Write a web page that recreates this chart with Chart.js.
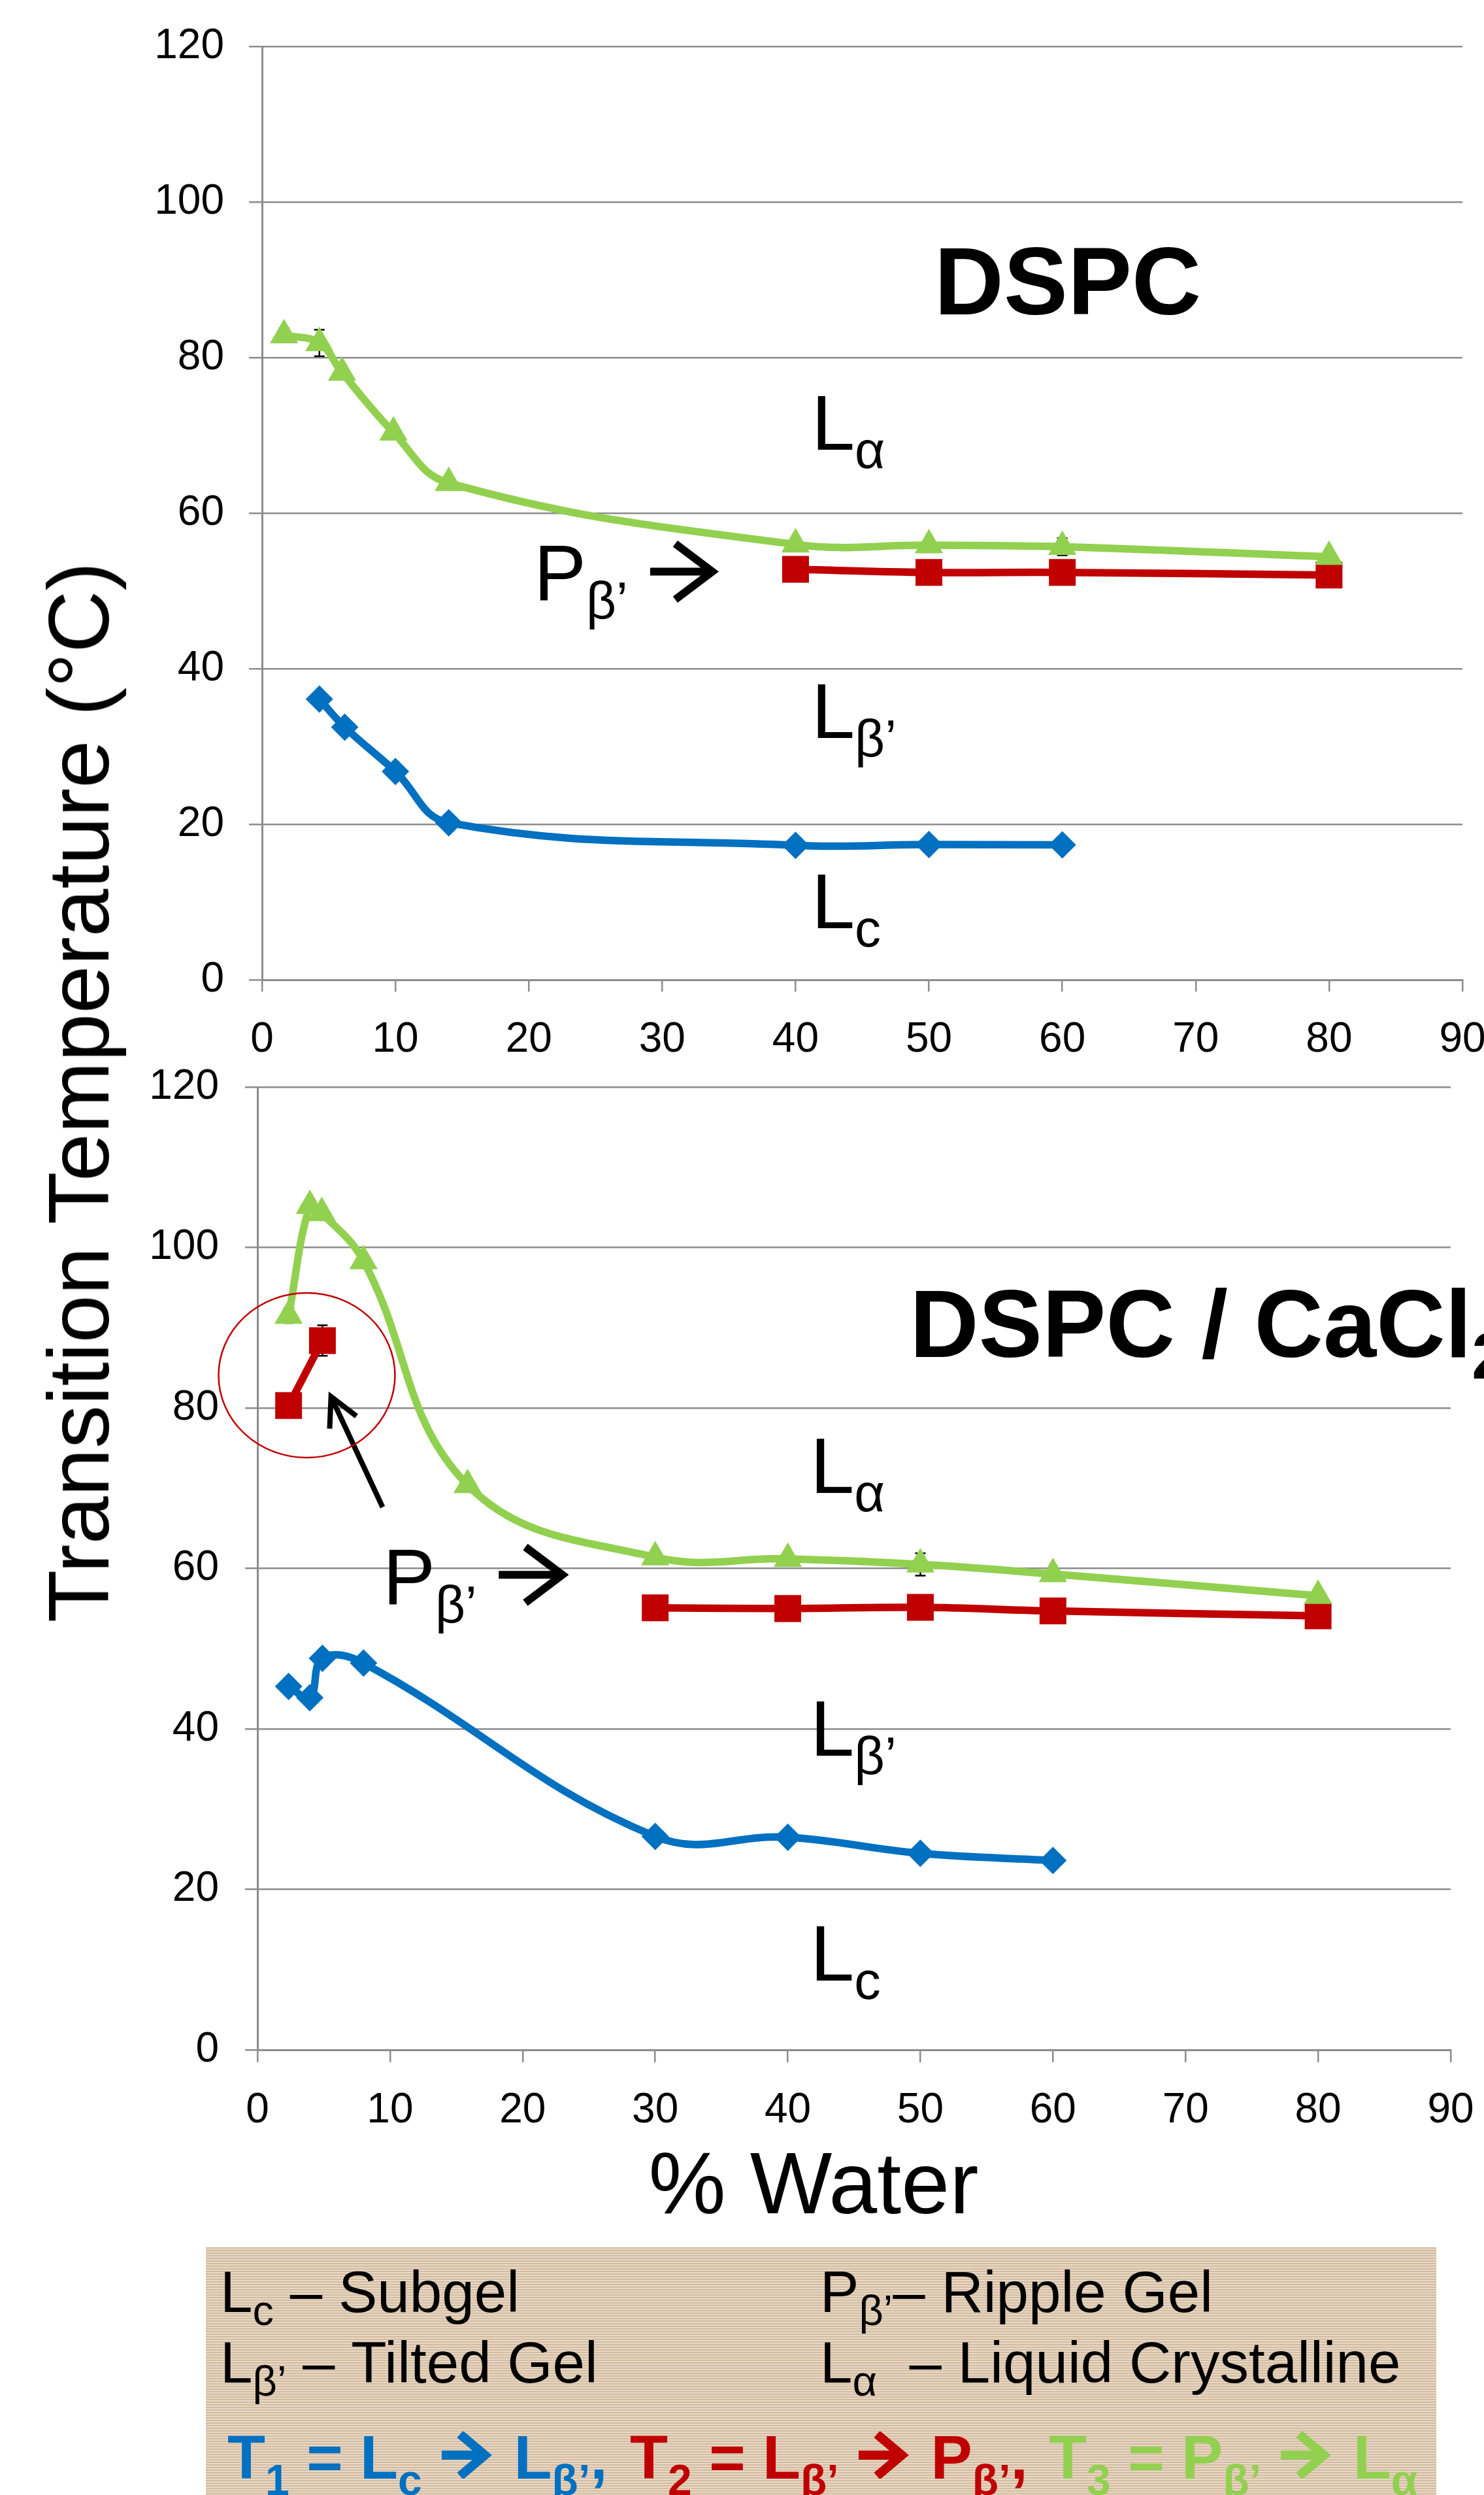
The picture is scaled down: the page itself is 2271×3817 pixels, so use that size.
<!DOCTYPE html>
<html>
<head>
<meta charset="utf-8">
<title>DSPC phase transitions vs water</title>
<script src="https://cdn.jsdelivr.net/npm/chart.js@4.4.0/dist/chart.umd.min.js"></script>
<style>
  html, body { margin: 0; padding: 0; background: #fff; }
  body { width: 2271px; height: 3817px; position: relative; overflow: hidden;
         font-family: 'Liberation Sans', Arial, Helvetica, sans-serif; color: #000; }
  canvas { position: absolute; left: 0; }
  #dspc-chart { top: 0; }
  #cacl-chart { top: 1560px; }
  .y-title { position: absolute; left: 121px; top: 1671px; font-size: 132px; line-height: 1;
             white-space: nowrap; transform: translate(-50%, -50%) rotate(-90deg); }
  .x-title { position: absolute; left: 1245px; top: 3274px; font-size: 133px; line-height: 1;
             white-space: nowrap; transform: translateX(-50%); }
  .key { position: absolute; left: 315px; top: 3438px; width: 1883px; height: 379px;
         background: repeating-linear-gradient(180deg, #d5bc9f 0 2px, #e6d8c8 2px 4px); }
  .key .row { position: absolute; white-space: nowrap; line-height: 1; font-size: 89px; }
  .key .row sub { font-size: 65px; vertical-align: baseline; position: relative; top: 20px; }
  .key .row.t { font-size: 95px; font-weight: bold; }
  .key .row.t sub { font-size: 66px; top: 25px; }
  .arr { vertical-align: baseline; margin: 0 4px; }
</style>
</head>
<body>
<canvas id="dspc-chart" width="2271" height="1700"></canvas>
<canvas id="cacl-chart" width="2271" height="1740"></canvas>

<div class="y-title">Transition Temperature (°C)</div>
<div class="x-title">% Water</div>

<div class="key">
  <div class="row" style="left:22px; top:24px">L<sub>c</sub> – Subgel</div>
  <div class="row" style="left:940px; top:24px">P<sub>β’</sub>– Ripple Gel</div>
  <div class="row" style="left:22px; top:132px">L<sub>β’</sub> – Tilted Gel</div>
  <div class="row" style="left:940px; top:132px">L<sub>α</sub>&nbsp; – Liquid Crystalline</div>
  <div class="row t" style="left:33px; top:274px; color:#0070C0">T<sub>1</sub> = L<sub>c</sub> <svg class="arr" width="80" height="72" viewBox="0 0 80 72"><path d="M0 36 H64 M28 4 L66 36 L28 68" fill="none" stroke="currentColor" stroke-width="14"/></svg> L<sub>β’</sub>,</div>
  <div class="row t" style="left:649px; top:274px; color:#C00000">T<sub>2</sub> = L<sub>β’</sub> <svg class="arr" width="80" height="72" viewBox="0 0 80 72"><path d="M0 36 H64 M28 4 L66 36 L28 68" fill="none" stroke="currentColor" stroke-width="14"/></svg> P<sub>β’</sub>,</div>
  <div class="row t" style="left:1290px; top:274px; color:#92D050">T<sub>3</sub> = P<sub>β’</sub> <svg class="arr" width="80" height="72" viewBox="0 0 80 72"><path d="M0 36 H64 M28 4 L66 36 L28 68" fill="none" stroke="currentColor" stroke-width="14"/></svg> L<sub>α</sub></div>
</div>

<script>
/* Phase diagram of DSPC (top) and DSPC / CaCl2 (bottom) vs % water */

const FONT = "'Liberation Sans', Arial, Helvetica, sans-serif";
const BLUE = '#0070C0';
const RED = '#C00000';
const GREEN = '#92D050';
const AXIS_GREY = '#8c8c8c';

// axis ranges
const WATER_RANGE = [0, 90];
const WATER_STEP = 10;
const TEMP_RANGE = [0, 120];
const TEMP_STEP = 20;

// DSPC panel -- T1 (Lc -> Lb'), T2 (Lb' -> Pb'), T3 (Pb' -> La)
const dspcT1Water = [4.3, 6.2, 10, 14, 40, 50, 60];
const dspcT1Temp  = [36.1, 32.5, 26.8, 20.2, 17.3, 17.4, 17.35];
const dspcT2Water = [40, 50, 60, 80];
const dspcT2Temp  = [52.8, 52.4, 52.4, 52.05];
const dspcT3Water = [1.65, 4.3, 6, 9.85, 14, 40, 50, 60, 80];
const dspcT3Temp  = [82.9, 81.9, 78.1, 70.4, 63.9, 56.0, 55.9, 55.7, 54.4];
const dspcT3Err   = [0.9, 1.7, 0, 0, 0, 0, 0, 1.1, 0];

// DSPC / CaCl2 panel
const caT1Water    = [2.35, 3.95, 4.9, 8.0, 30, 40, 50, 60];
const caT1Temp     = [45.3, 43.9, 48.8, 48.2, 26.6, 26.5, 24.5, 23.6];
const caT2LowWater = [2.35, 4.9];
const caT2LowTemp  = [80.3, 88.4];
const caT2LowErr   = [0, 1.9];
const caT2Water    = [30, 40, 50, 60, 80];
const caT2Temp     = [55.1, 55.0, 55.15, 54.7, 54.1];
const caT3Water    = [2.35, 3.95, 4.85, 8.0, 15.85, 30, 40, 50, 60, 80];
const caT3Temp     = [91.5, 105.2, 104.3, 98.3, 70.4, 61.4, 61.2, 60.5, 59.3, 56.6];
const caT3Err      = [0.9, 0, 0, 0, 0, 0, 0, 1.4, 0, 0];

const T1_STYLE = { borderColor: BLUE, backgroundColor: BLUE, pointStyle: 'rectRot', pointRadius: 21, order: 2 };
const T2_STYLE = { borderColor: RED, backgroundColor: RED, pointStyle: 'rect', pointRadius: 29, order: 1 };
const T3_STYLE = { borderColor: GREEN, backgroundColor: GREEN, pointStyle: 'triangle', pointRadius: 25, order: 0 };

function series(water, temp, style, errors) {
    return {
        data: water.map((x, i) => ({ x, y: temp[i] })),
        errorBars: errors || [],
        borderWidth: 11.5,
        pointBorderWidth: 0,
        tension: 0.4,
        ...style,
    };
}

// subscripted phase label: big letter + smaller subscript dropped below baseline
function phase(main, sub, size) {
    return [
        { text: main, font: `${size}px ${FONT}` },
        { text: sub, font: `${Math.round(size * 0.67)}px ${FONT}`, dy: 28 },
    ];
}

// small black error bars, drawn under the markers like Excel does
const errorBarPlugin = {
    id: 'errorBars',
    beforeDatasetsDraw(chart) {
        const { ctx, scales: { x, y } } = chart;
        ctx.save();
        ctx.strokeStyle = '#000';
        ctx.lineWidth = 2.5;
        chart.data.datasets.forEach(ds => {
            ds.errorBars.forEach((err, i) => {
                if (!err) return;
                const pt = ds.data[i];
                const px = x.getPixelForValue(pt.x);
                const top = y.getPixelForValue(pt.y + err);
                const bot = y.getPixelForValue(pt.y - err);
                ctx.beginPath();
                ctx.moveTo(px, top); ctx.lineTo(px, bot);
                ctx.moveTo(px - 8, top); ctx.lineTo(px + 8, top);
                ctx.moveTo(px - 8, bot); ctx.lineTo(px + 8, bot);
                ctx.stroke();
            });
        });
        ctx.restore();
    },
};

// phase names, panel titles, arrows and the circled region
const phaseNotesPlugin = {
    id: 'phaseNotes',
    afterDatasetsDraw(chart, args, opts) {
        const { ctx, scales: { x, y } } = chart;
        ctx.save();
        ctx.fillStyle = '#000';
        ctx.textAlign = 'left';
        ctx.textBaseline = 'alphabetic';
        (opts.labels || []).forEach(lab => {
            let cx = x.getPixelForValue(lab.x);
            const cy = y.getPixelForValue(lab.y);
            lab.parts.forEach(p => {
                ctx.font = p.font;
                ctx.fillText(p.text, cx, cy + (p.dy || 0));
                cx += ctx.measureText(p.text).width;
            });
        });

        ctx.strokeStyle = '#000';
        ctx.lineJoin = 'miter';
        (opts.arrows || []).forEach(a => {
            const x0 = x.getPixelForValue(a.from[0]), y0 = y.getPixelForValue(a.from[1]);
            const x1 = x.getPixelForValue(a.to[0]), y1 = y.getPixelForValue(a.to[1]);
            const back = Math.atan2(y0 - y1, x0 - x1);
            const spread = a.angle * Math.PI / 180;
            ctx.lineWidth = a.width;
            ctx.beginPath();
            ctx.moveTo(x0, y0);
            ctx.lineTo(x1, y1);
            ctx.stroke();
            ctx.beginPath();
            ctx.moveTo(x1 + Math.cos(back + spread) * a.head, y1 + Math.sin(back + spread) * a.head);
            ctx.lineTo(x1, y1);
            ctx.lineTo(x1 + Math.cos(back - spread) * a.head, y1 + Math.sin(back - spread) * a.head);
            ctx.stroke();
        });

        (opts.ellipses || []).forEach(e => {
            ctx.strokeStyle = e.color;
            ctx.lineWidth = e.width;
            ctx.beginPath();
            ctx.ellipse(x.getPixelForValue(e.x), y.getPixelForValue(e.y), e.rx, e.ry, 0, 0, Math.PI * 2);
            ctx.stroke();
        });
        ctx.restore();
    },
};

function buildPanel(canvasId, datasets, frame, notes) {
    return new Chart(document.getElementById(canvasId).getContext('2d'), {
        type: 'line',
        data: { datasets },
        plugins: [errorBarPlugin, phaseNotesPlugin],
        options: {
            responsive: false,
            animation: false,
            devicePixelRatio: 1,
            layout: { padding: { left: 0, top: frame.top, right: frame.right, bottom: frame.bottom } },
            plugins: {
                legend: { display: false },
                tooltip: { enabled: false },
                phaseNotes: notes,
            },
            scales: {
                x: {
                    type: 'linear',
                    min: WATER_RANGE[0], max: WATER_RANGE[1],
                    ticks: { stepSize: WATER_STEP, color: '#000', font: { family: FONT, size: 64 }, padding: 36, maxRotation: 0 },
                    grid: { drawOnChartArea: false, color: AXIS_GREY, lineWidth: 2.5, tickLength: frame.xTick },
                    border: { color: AXIS_GREY, width: 3 },
                    afterFit: s => { s.height = 150; s.paddingLeft = 0; s.paddingRight = 0; },
                },
                y: {
                    type: 'linear',
                    min: TEMP_RANGE[0], max: TEMP_RANGE[1],
                    ticks: { stepSize: TEMP_STEP, color: '#000', font: { family: FONT, size: 64 }, padding: frame.yPad },
                    grid: { color: AXIS_GREY, lineWidth: 2.5, tickLength: frame.yTick },
                    border: { color: AXIS_GREY, width: 3 },
                    afterFit: s => { s.width = frame.left; s.paddingTop = 0; s.paddingBottom = 0; },
                },
            },
        },
    });
}

buildPanel('dspc-chart', [
    series(dspcT1Water, dspcT1Temp, T1_STYLE),
    series(dspcT2Water, dspcT2Temp, T2_STYLE),
    series(dspcT3Water, dspcT3Temp, T3_STYLE, dspcT3Err),
], { left: 401, top: 71.5, right: 33, bottom: 51, xTick: 18, yTick: 20, yPad: 38 }, {
    labels: [
        { x: 50.4, y: 85.56, parts: [{ text: 'DSPC', font: `bold 147px ${FONT}` }] },
        { x: 41.2, y: 68.15, parts: phase('L', 'α', 119) },
        { x: 41.2, y: 31.1, parts: phase('L', 'β’', 119) },
        { x: 41.2, y: 6.67, parts: phase('L', 'c', 119) },
        { x: 20.38, y: 48.8, parts: phase('P', 'β’', 120) },
    ],
    arrows: [
        { from: [29.1, 52.5], to: [33.76, 52.5], head: 71, angle: 37, width: 12 },
    ],
});

buildPanel('cacl-chart', [
    series(caT1Water, caT1Temp, T1_STYLE),
    series(caT2LowWater, caT2LowTemp, T2_STYLE, caT2LowErr),
    series(caT2Water, caT2Temp, T2_STYLE),
    series(caT3Water, caT3Temp, T3_STYLE, caT3Err),
], { left: 394, top: 103, right: 51, bottom: 14, xTick: 19, yTick: 19, yPad: 40 }, {
    labels: [
        { x: 49.2, y: 86.35, parts: [
            { text: 'DSPC / CaCl', font: `bold 146px ${FONT}` },
            { text: '2', font: `bold 100px ${FONT}`, dy: 33 },
        ] },
        { x: 41.7, y: 69.4, parts: phase('L', 'α', 121) },
        { x: 41.7, y: 36.7, parts: phase('L', 'β’', 121) },
        { x: 41.7, y: 8.6, parts: phase('L', 'c', 121) },
        { x: 9.46, y: 55.6, parts: phase('P', 'β’', 120) },
    ],
    arrows: [
        { from: [18.2, 59.2], to: [23.0, 59.2], head: 71, angle: 37, width: 12 },
        { from: [9.44, 67.64], to: [5.55, 81.41], head: 49, angle: 27.5, width: 8 },
    ],
    ellipses: [
        { x: 3.72, y: 84.07, rx: 135, ry: 126, color: RED, width: 2.5 },
    ],
});
</script>
</body>
</html>
